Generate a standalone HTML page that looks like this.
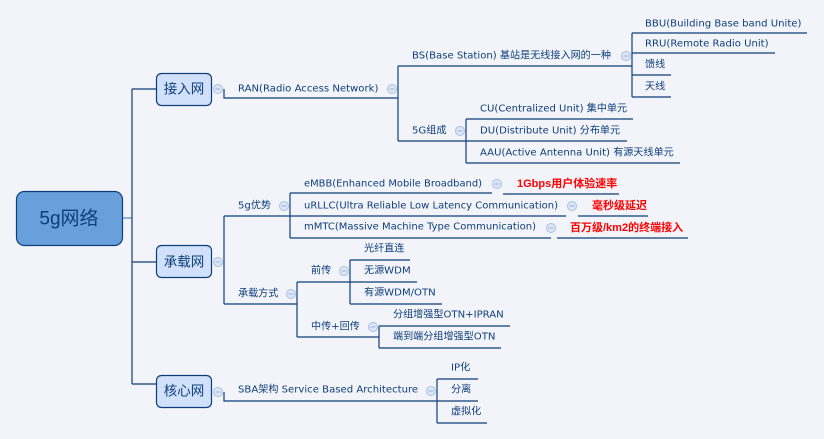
<!DOCTYPE html>
<html><head><meta charset="utf-8"><style>
html,body{margin:0;padding:0;background:#f2f4f9;}
svg{display:block}
text{font-family:"DejaVu Sans","Noto Sans CJK SC",sans-serif;font-size:10.1px;fill:#0e3e7c;dominant-baseline:central}
.r{fill:#ff0000;font-weight:bold;font-family:"Liberation Sans","Noto Sans CJK SC",sans-serif;font-size:11px}
.b{font-size:13.5px;text-anchor:middle;font-family:"Liberation Sans","Noto Sans CJK SC",sans-serif}
line,polyline{stroke:#0e3e7c;stroke-width:1.2;fill:none}
.c circle{fill:#dbe6f6;stroke:#a9c0e2;stroke-width:1}
.c line{stroke:#9db5d8;stroke-width:1}
</style></head><body>
<svg width="824" height="439" viewBox="0 0 824 439">
<defs><g id="m" class="c"><circle cx="0" cy="0" r="4.5"/><line x1="-2.5" y1="0" x2="2.5" y2="0"/></g></defs>
<line x1="122" y1="218" x2="132" y2="218" style="stroke:#5d86b8"/>
<line x1="132" y1="89" x2="132" y2="384"/>
<line x1="132" y1="89" x2="156" y2="89"/>
<line x1="132" y1="262" x2="156" y2="262"/>
<line x1="132" y1="384" x2="156" y2="384"/>
<rect x="16.5" y="191.5" width="106" height="54" rx="8" fill="#68a0dc" stroke="#0e3e7c" stroke-width="1.2"/>
<text x="69" y="219" style="font-size:19px;text-anchor:middle;font-family:'Liberation Sans','Noto Sans CJK SC',sans-serif">5g网络</text>

<rect x="156.5" y="73.5" width="55" height="32" rx="5" fill="#d1e1fb" stroke="#0e3e7c" stroke-width="1.2"/>
<text class="b" x="184" y="89">接入网</text>
<rect x="156.5" y="245.5" width="55" height="32" rx="5" fill="#d1e1fb" stroke="#0e3e7c" stroke-width="1.2"/>
<text class="b" x="184" y="262">承载网</text>
<rect x="156.5" y="375.5" width="55" height="32" rx="5" fill="#d1e1fb" stroke="#0e3e7c" stroke-width="1.2"/>
<text class="b" x="184" y="391">核心网</text>

<polyline points="224,89 224,98 398,98"/>
<use href="#m" x="218" y="89"/>
<text x="238" y="89">RAN(Radio Access Network)</text>
<use href="#m" x="392" y="89"/>
<line x1="398" y1="66" x2="398" y2="141"/>
<line x1="398" y1="66" x2="632" y2="66"/>
<text x="412" y="56">BS(Base Station) 基站是无线接入网的一种</text>
<use href="#m" x="626" y="56"/>
<line x1="398" y1="141" x2="466" y2="141"/>
<text x="412" y="131">5G组成</text>
<use href="#m" x="460" y="131"/>
<line x1="632" y1="33" x2="632" y2="97"/>
<line x1="632" y1="33" x2="807" y2="33"/><text x="645" y="24">BBU(Building Base band Unite)</text>
<line x1="632" y1="53" x2="775" y2="53"/><text x="645" y="44">RRU(Remote Radio Unit)</text>
<line x1="632" y1="75" x2="671" y2="75"/><text x="645" y="65">馈线</text>
<line x1="632" y1="97" x2="671" y2="97"/><text x="645" y="87">天线</text>
<line x1="466" y1="119" x2="466" y2="163"/>
<line x1="466" y1="119" x2="633" y2="119"/><text x="480" y="109">CU(Centralized Unit) 集中单元</text>
<line x1="466" y1="141" x2="627" y2="141"/><text x="480" y="131">DU(Distribute Unit) 分布单元</text>
<line x1="466" y1="163" x2="680" y2="163"/><text x="480" y="153">AAU(Active Antenna Unit) 有源天线单元</text>

<use href="#m" x="218" y="262"/>
<line x1="224" y1="216" x2="224" y2="304"/>
<line x1="224" y1="216" x2="290" y2="216"/>
<text x="238" y="206">5g优势</text>
<use href="#m" x="284" y="206"/>
<line x1="290" y1="193" x2="290" y2="238"/>
<line x1="290" y1="193" x2="492" y2="193"/><text x="304" y="184" textLength="178" lengthAdjust="spacingAndGlyphs">eMBB(Enhanced Mobile Broadband)</text>
<use href="#m" x="497" y="184"/>
<line x1="503" y1="194" x2="619" y2="194"/><text class="r" x="517" y="184">1Gbps用户体验速率</text>
<line x1="290" y1="216" x2="566" y2="216"/><text x="304" y="206" textLength="254" lengthAdjust="spacingAndGlyphs">uRLLC(Ultra Reliable Low Latency Communication)</text>
<use href="#m" x="572" y="206"/>
<line x1="578" y1="216" x2="648" y2="216"/><text class="r" x="592" y="206">毫秒级延迟</text>
<line x1="290" y1="238" x2="551" y2="238"/><text x="304" y="227" textLength="232" lengthAdjust="spacingAndGlyphs">mMTC(Massive Machine Type Communication)</text>
<use href="#m" x="551" y="228"/>
<line x1="557" y1="238" x2="688" y2="238"/><text class="r" x="570" y="228">百万级/km2的终端接入</text>

<line x1="224" y1="304" x2="297" y2="304"/>
<text x="238" y="294">承载方式</text>
<use href="#m" x="291" y="294"/>
<line x1="297" y1="282" x2="297" y2="337"/>
<line x1="297" y1="282" x2="350" y2="282"/><text x="311" y="271">前传</text>
<use href="#m" x="344" y="271"/>
<line x1="350" y1="260" x2="350" y2="304"/>
<line x1="350" y1="260" x2="410" y2="260"/><text x="364" y="249">光纤直连</text>
<line x1="350" y1="282" x2="417" y2="282"/><text x="364" y="271">无源WDM</text>
<line x1="350" y1="304" x2="442" y2="304"/><text x="364" y="293">有源WDM/OTN</text>
<line x1="297" y1="337" x2="379" y2="337"/><text x="311" y="327">中传+回传</text>
<use href="#m" x="373" y="327"/>
<line x1="379" y1="326" x2="379" y2="348"/>
<line x1="379" y1="326" x2="510" y2="326"/><text x="393" y="315">分组增强型OTN+IPRAN</text>
<line x1="379" y1="348" x2="501" y2="348"/><text x="393" y="337">端到端分组增强型OTN</text>

<use href="#m" x="218" y="392"/>
<polyline points="224,392 224,401 437,401"/>
<text x="238" y="390">SBA架构 Service Based Architecture</text>
<use href="#m" x="431" y="391"/>
<line x1="437" y1="379" x2="437" y2="423"/>
<line x1="437" y1="379" x2="478" y2="379"/><text x="451" y="368">IP化</text>
<line x1="437" y1="401" x2="478" y2="401"/><text x="451" y="390">分离</text>
<line x1="437" y1="423" x2="487" y2="423"/><text x="451" y="412">虚拟化</text>
</svg>
</body></html>
